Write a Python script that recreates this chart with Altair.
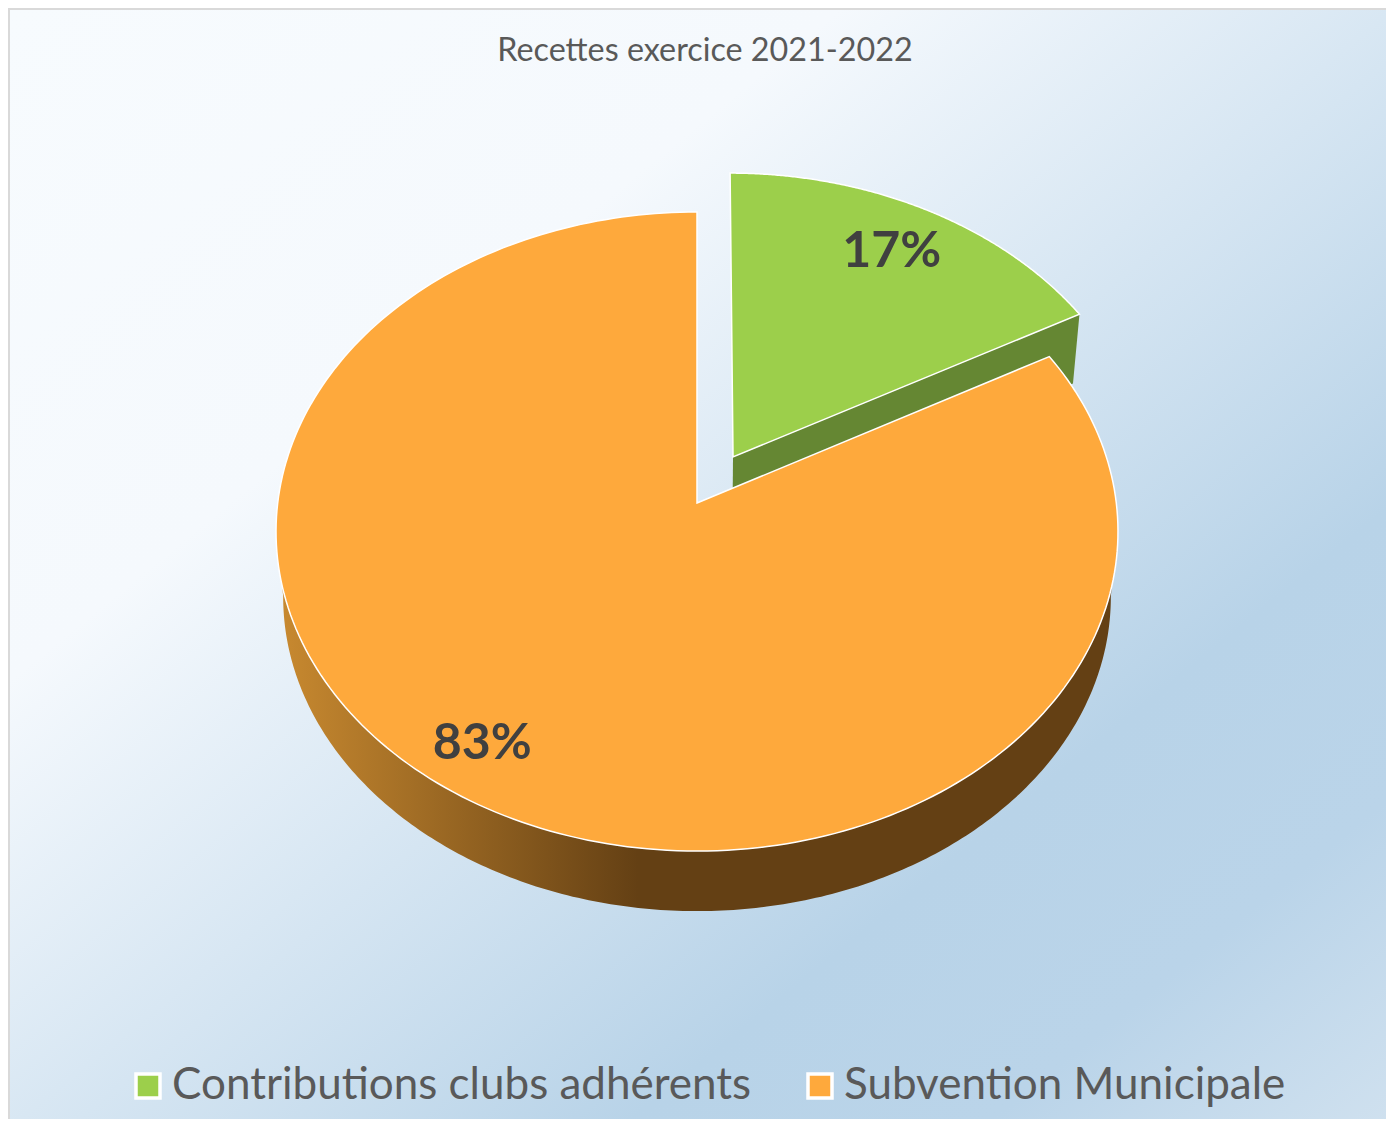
import numpy as np
import pandas as pd
import altair as alt

TITLE = "Recettes exercice 2021-2022"
categories = ["Contributions clubs adhérents", "Subvention Municipale"]
values = [17, 83]
labels = ["17%", "83%"]
face_colors = ["#9ccf4b", "#fea93c"]
wall_colors = ["#658733"]

W, H = 1378, 1111
FONT = "Lato"
K, B, A = 0.0892, 419.3, 317.0      # perspective and size of the disc
CX, CY = 689.0, 495.0               # where the disc centre falls in the view
SHRINK, DROP = 0.983, 66.0          # lower plane of the disc
EXPLODE = 0.171


def project(X, Y, lower=False):
    d = 1 + K * Y
    if lower:
        return SHRINK * X / d, SHRINK * Y / d - DROP / A
    return X / d, Y / d


def rim(a0, a1, n=240, ox=0.0, oy=0.0, lower=False):
    t = np.radians(np.linspace(a0, a1, n))
    return project(ox + np.sin(t), oy + np.cos(t), lower)


total = sum(values)
cut = 360 * values[0] / total
mid = np.radians(cut / 2)
ex, ey = EXPLODE * np.sin(mid), EXPLODE * np.cos(mid)


def poly(parts):
    xs = np.concatenate([p[0] for p in parts])
    ys = np.concatenate([p[1] for p in parts])
    return xs, ys


def frame(parts, name):
    xs, ys = poly(parts)
    return pd.DataFrame({"x": xs, "y": ys, "i": np.arange(len(xs)), "series": name})


apex_g = project(np.array([ex]), np.array([ey]))
apex_o = project(np.array([0.0]), np.array([0.0]))
green_face = frame([apex_g, rim(0, cut, ox=ex, oy=ey)], categories[0])
orange_face = frame([apex_o, rim(cut, 360)], categories[1])
faces = pd.concat([green_face, orange_face])

# wall of the green slice, along its lower cut edge
ga = project(np.array([ex]), np.array([ey]), True)
gb = project(np.array([ex + np.sin(np.radians(cut))]), np.array([ey + np.cos(np.radians(cut))]), True)
gt = project(np.array([ex + np.sin(np.radians(cut))]), np.array([ey + np.cos(np.radians(cut))]))
green_wall = frame([apex_g, gt, gb, ga], "wall")

# wall of the orange slice: lower rim, back along the upper rim
lx, ly = rim(95, 265, lower=True)
ux, uy = rim(265, 95)
orange_wall = frame([(lx, ly), (ux, uy)], "wall")

lab_r = [0.998, 0.852]
lab_a = [np.radians(cut / 2 - 0.5), np.radians(214.3)]
lab_xy = [project(lab_r[i] * np.sin(lab_a[i]), lab_r[i] * np.cos(lab_a[i])) for i in range(2)]
label_df = pd.DataFrame({"x": [p[0] for p in lab_xy], "y": [p[1] for p in lab_xy], "t": labels})

x_scale = alt.Scale(domain=[-CX / B, (W - CX) / B], range=[0, W], nice=False, zero=False)
y_scale = alt.Scale(domain=[(CY - H) / A, CY / A], range=[H, 0], nice=False, zero=False)
X = alt.X("x:Q", scale=x_scale, axis=None)
Y = alt.Y("y:Q", scale=y_scale, axis=None)

bg = alt.Chart(pd.DataFrame({"a": [0]})).mark_rect(
    fill=alt.LinearGradient(
        gradient="linear", x1=0, y1=0, x2=1, y2=1,
        stops=[
            alt.GradientStop(offset=0, color="#f7fbfe"),
            alt.GradientStop(offset=0.3, color="#f5f9fd"),
            alt.GradientStop(offset=0.72, color="#b8d3e8"),
            alt.GradientStop(offset=0.85, color="#bad4e9"),
            alt.GradientStop(offset=1, color="#d0e1ef"),
        ],
    ),
    stroke="#d9d9d9", strokeWidth=2,
).encode(x=alt.value(1), x2=alt.value(W + 10), y=alt.value(1), y2=alt.value(H + 10))

wall_o = alt.Chart(orange_wall).mark_line(
    interpolate="linear-closed", strokeWidth=0,
    fill=alt.LinearGradient(
        gradient="linear", x1=0, y1=0, x2=1, y2=0,
        stops=[
            alt.GradientStop(offset=0, color="#c98a30"),
            alt.GradientStop(offset=0.43, color="#644014"),
            alt.GradientStop(offset=1, color="#644014"),
        ],
    ),
).encode(x=X, y=Y, order="i:Q")

wall_g = alt.Chart(green_wall).mark_line(
    interpolate="linear-closed", strokeWidth=0, fill=wall_colors[0]
).encode(x=X, y=Y, order="i:Q")

face = alt.Chart(faces).mark_line(
    interpolate="linear-closed", stroke="white", strokeWidth=1.5
).encode(
    x=X, y=Y, order="i:Q",
    fill=alt.Fill(
        "series:N",
        scale=alt.Scale(domain=categories, range=face_colors),
        legend=alt.Legend(
            title=None, orient="none", legendX=118, legendY=1056, direction="horizontal",
            symbolType="square", symbolSize=576, symbolStrokeColor="white", symbolStrokeWidth=3.5,
            symbolOpacity=1, labelFont=FONT, labelFontSize=44, labelColor="#595959",
            labelLimit=900, labelOffset=2, columnPadding=46, padding=0,
        ),
    ),
)

text = alt.Chart(label_df).mark_text(
    font=FONT, fontSize=50, fontWeight="bold", color="#404040", dy=3
).encode(x=X, y=Y, text="t:N")

chart = alt.layer(bg, wall_o, wall_g, face, text).properties(
    width=W, height=H, padding=0,
    autosize=alt.AutoSizeParams(type="none"),
    title=alt.TitleParams(
        TITLE, font=FONT, fontSize=32.3, fontWeight="normal", color="#595959",
        anchor="middle", offset=0, dx=8, dy=59,
    ),
).configure_view(stroke=None)

chart.save("out.html", embed_options={"renderer": "svg", "actions": False})
